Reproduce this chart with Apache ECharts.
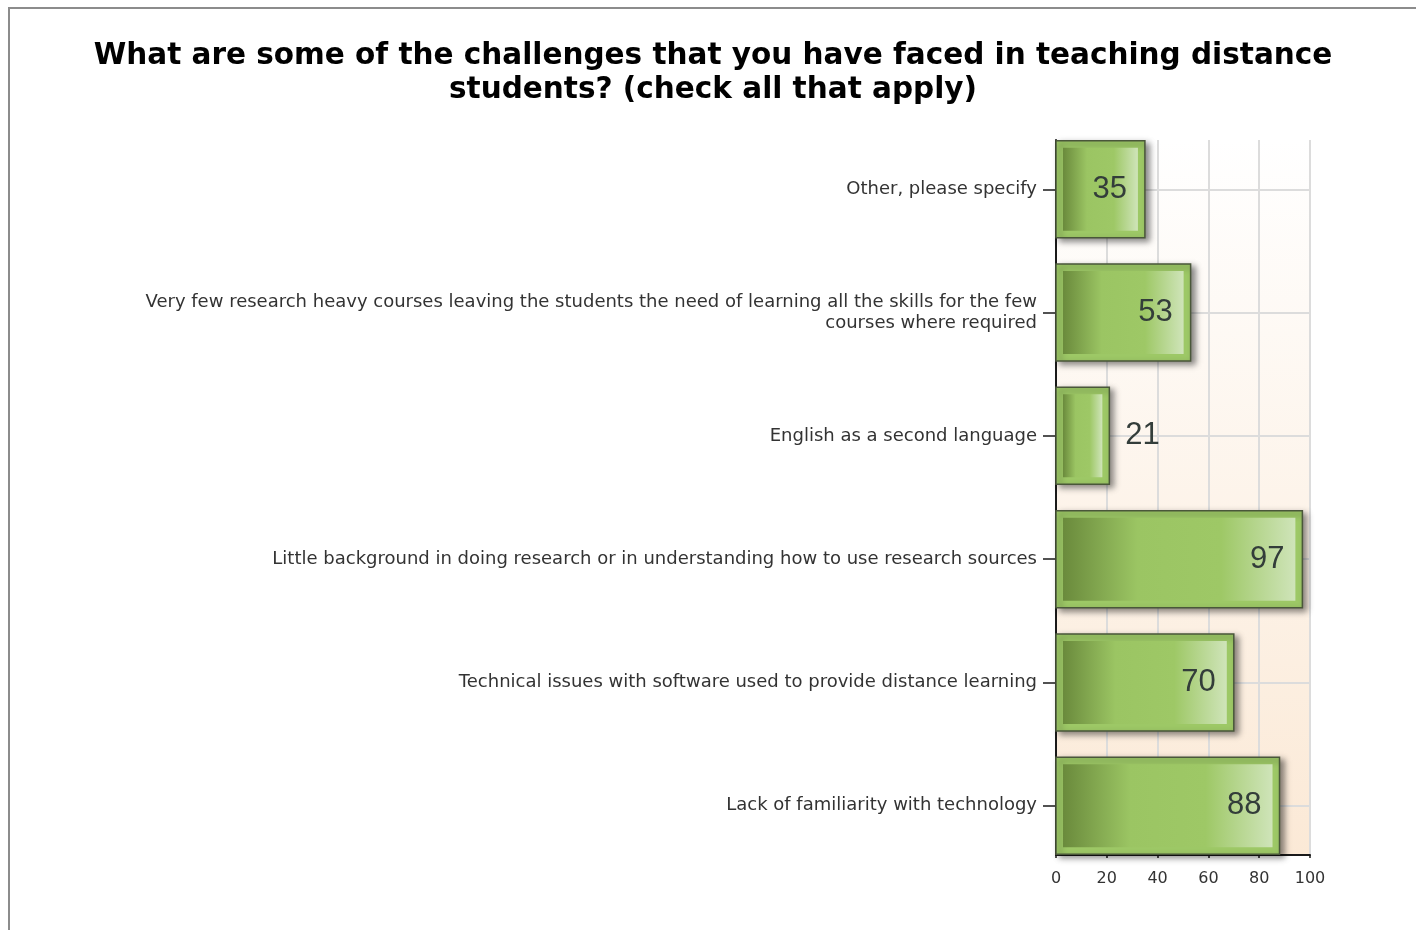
<!DOCTYPE html>
<html>
<head>
<meta charset="utf-8">
<script src="https://cdn.jsdelivr.net/npm/echarts@6/dist/echarts.min.js"></script>
<style>
  html, body { margin: 0; padding: 0; background: #ffffff; }
  #chart { width: 1416px; height: 930px; }
</style>
</head>
<body>
<div id="chart"></div>
<script>
// Survey question and answer options (top to bottom)
const chartTitle = 'What are some of the challenges that you have faced in teaching distance\nstudents? (check all that apply)';
const categories = [
  'Other, please specify',
  'Very few research heavy courses leaving the students the need of learning all the skills for the few\ncourses where required',
  'English as a second language',
  'Little background in doing research or in understanding how to use research sources',
  'Technical issues with software used to provide distance learning',
  'Lack of familiarity with technology'
];
// Number of responses per option
const responses = [35, 53, 21, 97, 70, 88];
// Value axis range and step
const valueMin = 0;
const valueMax = 100;
const valueStep = 20;

const chart = echarts.init(document.getElementById('chart'), null, { renderer: 'canvas' });

const catIndex = categories.map((_, i) => i);
const seriesData = responses.map((v, i) => [v, i]);

function renderBar(params, api) {
  const v = api.value(0);
  const i = api.value(1);
  const start = api.coord([valueMin, i]);
  const end = api.coord([v, i]);
  const band = api.size([0, 1])[1];
  const h = band * 0.787;
  const x0 = start[0];
  const w = end[0] - start[0];
  const yc = start[1];
  const top = yc - h / 2;
  const inset = 7;
  const inside = w > 75;
  return {
    type: 'group',
    children: [
      {
        type: 'rect',
        shape: { x: x0, y: top, width: w, height: h },
        style: {
          fill: '#9dc866',
          stroke: '#4a573a',
          lineWidth: 1.5,
          shadowBlur: 6,
          shadowOffsetX: 4,
          shadowOffsetY: 3,
          shadowColor: 'rgba(0,0,0,0.45)'
        }
      },
      {
        type: 'rect',
        shape: { x: x0 + inset, y: top + inset, width: Math.max(w - inset * 2, 0), height: h - inset * 2 },
        style: {
          fill: new echarts.graphic.LinearGradient(0, 0, 1, 0, [
            { offset: 0, color: '#6a8a3c' },
            { offset: 0.32, color: '#9bc563' },
            { offset: 0.68, color: '#9ec866' },
            { offset: 1, color: '#cfe4b9' }
          ])
        }
      },
      {
        type: 'text',
        x: inside ? end[0] - 18 : end[0] + 16,
        y: yc,
        style: {
          text: String(v),
          align: inside ? 'right' : 'left',
          verticalAlign: 'middle',
          fill: '#333d3a',
          fontSize: 31,
          fontFamily: '"Liberation Sans", Arial, sans-serif'
        }
      }
    ]
  };
}

const option = {
  backgroundColor: '#ffffff',
  animation: false,
  title: {
    text: chartTitle,
    left: 713,
    top: 39,
    padding: 0,
    textAlign: 'center',
    textStyle: {
      fontFamily: '"DejaVu Sans", Verdana, sans-serif',
      fontWeight: 'bold',
      fontSize: 29.5,
      lineHeight: 34,
      color: '#000000'
    }
  },
  graphic: [
    {
      type: 'polyline',
      shape: { points: [[9, 930], [9, 8], [1416, 8]] },
      style: { stroke: '#8c8c8c', lineWidth: 2, fill: null }
    }
  ],
  grid: {
    left: 1056,
    right: 106,
    top: 140,
    bottom: 75,
    show: true,
    borderWidth: 0,
    backgroundColor: new echarts.graphic.LinearGradient(0, 0, 0, 1, [
      { offset: 0, color: '#ffffff' },
      { offset: 1, color: '#fbe9d6' }
    ])
  },
  xAxis: {
    type: 'value',
    min: valueMin,
    max: valueMax,
    interval: valueStep,
    axisLine: { show: true, onZero: false, lineStyle: { color: '#1a1a1a', width: 2 } },
    axisTick: { show: true, length: 3, lineStyle: { color: '#1a1a1a', width: 1.5 } },
    axisLabel: {
      margin: 16,
      color: '#333333',
      fontSize: 16,
      fontFamily: '"DejaVu Sans", Verdana, sans-serif'
    },
    splitLine: { show: true, lineStyle: { color: '#dcdcdc', width: 2 } }
  },
  yAxis: {
    type: 'value',
    inverse: true,
    min: -0.4,
    max: 5.4,
    axisLine: { show: true, onZero: false, lineStyle: { color: '#1a1a1a', width: 2 } },
    axisTick: {
      show: true,
      customValues: catIndex,
      length: 13,
      lineStyle: { color: '#1a1a1a', width: 1.5 }
    },
    axisLabel: {
      customValues: catIndex,
      formatter: (v) => categories[v] || '',
      margin: 19,
      color: '#333333',
      fontSize: 18,
      lineHeight: 21,
      fontFamily: '"DejaVu Sans", Verdana, sans-serif'
    },
    splitLine: { show: true, lineStyle: { color: '#dcdcdc', width: 2 } }
  },
  series: [
    {
      type: 'custom',
      renderItem: renderBar,
      encode: { x: 0, y: 1 },
      data: seriesData,
      z: 5
    }
  ]
};

chart.setOption(option);
</script>
</body>
</html>
